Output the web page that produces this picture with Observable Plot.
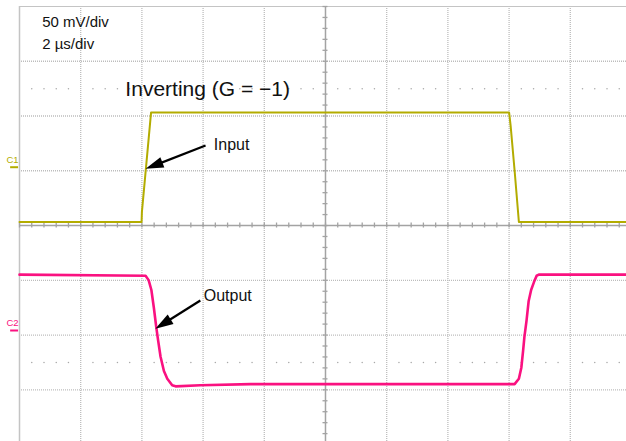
<!DOCTYPE html>
<html>
<head>
<meta charset="utf-8">
<script src="https://cdn.jsdelivr.net/npm/d3@7"></script>
<script src="https://cdn.jsdelivr.net/npm/@observablehq/plot@0.6"></script>
<style>
  html, body { margin: 0; padding: 0; background: #fff; overflow: hidden; }
  #chart svg { display: block; }
</style>
</head>
<body>
<div id="chart"></div>
<script>
// ---- Data ----
// time in µs (2 µs/div), amplitude in mV (50 mV/div)
const inputTime  = [-10, -6.01, -6.00, -5.70, 6.00, 6.05, 6.18, 6.32, 9.84];
const inputMV    = [-50, -50,   -41,   50,    50,   38,   -3,   -50,  -50];
const outputTime = [-10, -5.88, -5.78, -5.69, -5.61, -5.53, -5.47, -5.39, -5.28, -5.17, -5.01, -4.90, -4.09, -2.45,
                    6.18, 6.32, 6.40, 6.46, 6.50, 6.57, 6.64, 6.72, 6.81, 6.90, 6.97, 9.84];
const outputMV   = [51, 50, 46, 37, 21, 3, -9, -24, -37, -44, -50, -51, -50, -49,
                    -49, -44, -34, -18, -6, 9, 27, 37, 44, 50, 51, 51];
// channel ground markers (divisions from screen centre)
const channelNames   = ["C1", "C2"];
const channelOffsets = [1.065, -1.917];
const mVperDiv = 50;
const usPerDiv = 2;

// scale settings text
const scaleLabels = ["50 mV/div", "2 µs/div"];
const scaleLabelT = [-9.26, -9.26];
const scaleLabelV = [3.62, 3.23];
const titleText = "Inverting (G = \u22121)";
const titleT = -6.54, titleV = 2.36;

// annotations: label, label position, arrow tail, arrow tip
const annoLabels = ["Input", "Output"];
const annoLabelT = [-3.65, -3.98];
const annoLabelV = [1.38, -1.37];
const arrowTailT = [-3.92, -4.09];
const arrowTailV = [1.46, -1.37];
const arrowTipT  = [-5.88, -5.56];
const arrowTipV  = [1.035, -1.886];

// ---- Layout ----
const W = 626, H = 441;
const mL = 19, mT = 6;
const xDomain = [-10, 9.837];
const yDomain = [-3.944, 4];
const kx = (W - mL) / (xDomain[1] - xDomain[0]);   // px per µs
const ky = (H - mT) / (yDomain[1] - yDomain[0]);   // px per div

const olive = "#b3ac00";
const pink = "#fa1180";
const font = "'Liberation Sans', Arial, Helvetica, sans-serif";

const inputData = inputTime.map((t, i) => ({t, v: channelOffsets[0] + inputMV[i] / mVperDiv}));
const outputData = outputTime.map((t, i) => ({t, v: channelOffsets[1] + outputMV[i] / mVperDiv}));

const majorT = d3.range(-10, 10.001, usPerDiv);
const majorV = d3.range(-4, 4.001, 1);
const minorT = d3.range(-10, 10.001, usPerDiv / 5);
const minorV = d3.range(-4, 4.001, 0.2);
const isMajorT = t => Math.abs(t / usPerDiv - Math.round(t / usPerDiv)) < 1e-6;
const dotRows = [2.5, -2.5].flatMap(v => minorT.filter(t => !isMajorT(t)).map(t => ({t, v})));

const arrows = annoLabels.map((label, i) => {
  const dxs = (arrowTipT[i] - arrowTailT[i]) * kx;
  const dys = -(arrowTipV[i] - arrowTailV[i]) * ky;
  const len = Math.hypot(dxs, dys);
  const back = 9 / len;
  return {
    t1: arrowTailT[i], v1: arrowTailV[i],
    t2: arrowTipT[i] + (arrowTailT[i] - arrowTipT[i]) * back,
    v2: arrowTipV[i] + (arrowTailV[i] - arrowTipV[i]) * back,
    tt: arrowTipT[i], tv: arrowTipV[i],
    rot: Math.atan2(dys, dxs) * 180 / Math.PI + 90
  };
});
const arrowHead = {
  draw(ctx) { ctx.moveTo(0, 0); ctx.lineTo(-5.5, 18); ctx.lineTo(5.5, 18); ctx.closePath(); }
};

const tickHalfV = 2.5 / ky, tickHalfT = 2.5 / kx;
const gridColor = "#bdbdbd";
const axisColor = "#a3a3a3";

const chart = Plot.plot({
  width: W, height: H,
  marginLeft: mL, marginRight: 0, marginTop: mT, marginBottom: 0,
  x: {domain: xDomain, axis: null},
  y: {domain: yDomain, axis: null},
  style: {background: "white", fontFamily: font, overflow: "visible"},
  marks: [
    // dotted graticule
    Plot.ruleX(majorT.filter(t => t !== 0 && t !== -10), {stroke: gridColor, strokeWidth: 1.3, strokeDasharray: "1,1"}),
    Plot.ruleY(majorV.filter(v => v !== 0 && v !== 4), {stroke: gridColor, strokeWidth: 1.3, strokeDasharray: "1,1"}),
    Plot.dot(dotRows, {x: "t", y: "v", r: 0.75, fill: "#a8a8a8", stroke: null}),
    // frame edges
    Plot.ruleX([-10], {stroke: "#c4c4c4", strokeWidth: 1.5}),
    Plot.ruleY([4], {stroke: "#c4c4c4", strokeWidth: 1.2}),
    // centre axes with minor ticks
    Plot.ruleX([0], {stroke: axisColor, strokeWidth: 1.5}),
    Plot.ruleY([0], {stroke: axisColor, strokeWidth: 1.5}),
    Plot.ruleX(minorT, {x: d => d, y1: -tickHalfV, y2: tickHalfV, stroke: axisColor, strokeWidth: 1.3}),
    Plot.ruleY(minorV, {y: d => d, x1: -tickHalfT, x2: tickHalfT, stroke: axisColor, strokeWidth: 1.3}),
    // channel markers
    Plot.ruleY([0], {y: () => channelOffsets[0], x1: -10.29, x2: -10.03, stroke: olive, strokeWidth: 2}),
    Plot.ruleY([0], {y: () => channelOffsets[1], x1: -10.29, x2: -10.03, stroke: pink, strokeWidth: 2}),
    Plot.text(channelNames, {x: -10.23, y: (d, i) => channelOffsets[i], text: d => d, dy: -4.5,
      lineAnchor: "bottom", fill: (d, i) => i === 0 ? olive : pink, fontSize: 9.5,
      fontFamily: "'Liberation Sans Narrow', 'Liberation Sans', sans-serif"}),
    // traces
    Plot.line(inputData, {x: "t", y: "v", stroke: olive, strokeWidth: 2, curve: "linear"}),
    Plot.line(outputData, {x: "t", y: "v", stroke: pink, strokeWidth: 2.6, curve: "linear"}),
    // text
    Plot.text(scaleLabels, {x: (d, i) => scaleLabelT[i], y: (d, i) => scaleLabelV[i], text: d => d,
      textAnchor: "start", lineAnchor: "bottom", fontSize: 15, fill: "#111"}),
    Plot.text([titleText], {x: titleT, y: titleV, text: d => d, textAnchor: "start", lineAnchor: "bottom",
      fontSize: 21, fill: "#111"}),
    Plot.text(annoLabels, {x: (d, i) => annoLabelT[i], y: (d, i) => annoLabelV[i], text: d => d,
      textAnchor: "start", lineAnchor: "bottom", fontSize: 16, fill: "#111"}),
    // arrows
    Plot.link(arrows, {x1: "t1", y1: "v1", x2: "t2", y2: "v2", stroke: "black", strokeWidth: 2.2}),
    Plot.dot(arrows, {x: "tt", y: "tv", symbol: arrowHead, rotate: "rot", fill: "black", stroke: "none", r: 5})
  ]
});
document.getElementById("chart").appendChild(chart);
</script>
</body>
</html>
